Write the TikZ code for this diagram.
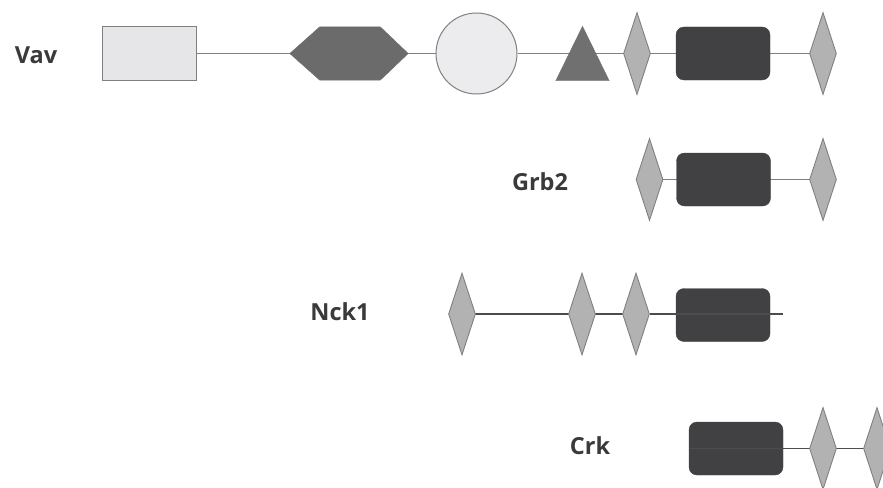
\documentclass[tikz,border=0pt]{standalone}
\usepackage{fontspec}
\setmainfont{Open Sans}
\usetikzlibrary{shapes.geometric,backgrounds}
\definecolor{lightfill}{HTML}{E6E6E8}
\definecolor{circfill}{HTML}{ECECEE}
\definecolor{hexfill}{HTML}{6B6B6B}
\definecolor{trifill}{HTML}{707070}
\definecolor{diafill}{HTML}{B2B2B2}
\definecolor{darkfill}{HTML}{414143}
\definecolor{edge}{HTML}{808080}
\definecolor{lbl}{HTML}{3A3A3A}
\begin{document}
\begin{tikzpicture}[x=1pt,y=-1pt,
  lab/.style={font=\fontsize{23.5}{26}\selectfont\bfseries, text=lbl, inner sep=0pt},
  dia/.style={diamond, draw=edge, fill=diafill, line width=0.9pt, inner sep=0pt, minimum width=27, minimum height=82},
  sh3/.style={rectangle, draw=darkfill, fill=darkfill, rounded corners=8pt, inner sep=0pt, minimum width=94, minimum height=53},
  box/.style={draw=none, inner sep=0pt},
  conn/.style={draw=edge, line width=1.1pt},
  connd/.style={draw=black!70, line width=1.1pt}]
\useasboundingbox (0,0) rectangle (883,487);
% labels
\node[lab] (lvav) at (36,55) {Vav};
\node[lab] (lgrb) at (540,182) {Grb2};
\node[lab] (lnck) at (340,312) {Nck1};
\node[lab] (lcrk) at (590,446) {Crk};
% Vav
\node[rectangle, draw=edge, fill=lightfill, line width=1pt, inner sep=0pt, minimum width=94, minimum height=53] (vrect) at (149,53.5) {};
\node[box, minimum width=118, minimum height=53] (vhex) at (349,53.5) {};
\draw[draw=hexfill, fill=hexfill] (vhex.west) -- ([xshift=30]vhex.north west) -- ([xshift=-28]vhex.north east) -- (vhex.east) -- ([xshift=-28]vhex.south east) -- ([xshift=30]vhex.south west) -- cycle;
\node[circle, draw=edge, fill=circfill, line width=1pt, inner sep=0pt, minimum size=81] (vcirc) at (476.5,53.5) {};
\node[box, minimum width=53, minimum height=54] (vtri) at (582.5,53.5) {};
\draw[draw=trifill, fill=trifill] (vtri.south west) -- (vtri.north) -- (vtri.south east) -- cycle;
\node[dia] (vd1) at (637,53.5) {};
\node[sh3] (vsh3) at (723,53.5) {};
\node[dia] (vd2) at (823,53.5) {};
\begin{scope}[on background layer]
\draw[conn] (vrect.east) -- (vhex.west);
\draw[conn] (vhex.east) -- (vcirc.west);
\draw[conn] (vcirc.east) -- (vtri.center);
\draw[conn] (vtri.center) -- (vd1.center);
\draw[conn] (vd1.center) -- (vsh3.center);
\draw[conn] (vsh3.center) -- (vd2.center);
\end{scope}
% Grb2
\node[dia] (gd1) at (649.5,179.5) {};
\node[sh3] (gsh3) at (723.5,179.5) {};
\node[dia] (gd2) at (823,179.5) {};
\begin{scope}[on background layer]
\draw[conn] (gd1.center) -- (gsh3.center);
\draw[conn] (gsh3.center) -- (gd2.center);
\end{scope}
% Nck1
\node[dia] (nd1) at (462,314) {};
\node[dia] (nd2) at (582,314) {};
\node[dia] (nd3) at (636,314) {};
\node[sh3] (nsh3) at (723,315) {};
\coordinate (nend) at (783,314);
\begin{scope}[on background layer]
\draw[connd] (nd1.center) -- (nd2.center);
\draw[connd] (nd2.center) -- (nd3.center);
\end{scope}
\draw[connd] (nd3.east) -- (nend);
% Crk
\node[sh3] (csh3) at (736,448.5) {};
\node[dia] (cd1) at (823,448.5) {};
\node[dia] (cd2) at (877,448.5) {};
\begin{scope}[on background layer]
\draw[connd] (cd1.center) -- (cd2.center);
\draw[connd] (csh3.east) -- (cd1.center);
\end{scope}
\draw[connd] (csh3.west) -- (csh3.east);
\end{tikzpicture}
\end{document}
